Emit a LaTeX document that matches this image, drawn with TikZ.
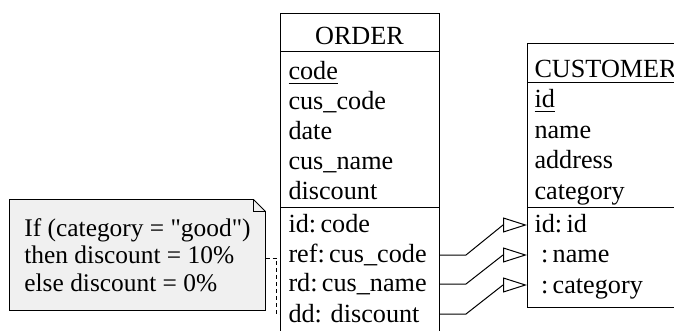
\documentclass[tikz,border=0pt]{standalone}
\usepackage{fontspec}
\setmainfont{Liberation Serif}
\newfontfamily\memofont{Liberation Serif}
\usetikzlibrary{arrows.meta, positioning, calc, backgrounds}

\begin{document}
\begin{tikzpicture}[x=0.5pt, y=-0.5pt, line width=0.5pt,
      every node/.style={font=\fontsize{13.1}{13.75}\selectfont},
      relbox/.style={draw, anchor=north west, inner sep=0pt},
      row/.style={anchor=base west, inner sep=0pt, text height=11pt, text depth=3pt},
      title/.style={anchor=base, inner sep=0pt},
      memo/.style={minimum width=127.5pt, minimum height=55pt, align=left,
        font=\memofont\fontsize{12.7}{13.75}\selectfont},
      fk/.style={-{Triangle[open, length=12pt, width=7.5pt]}}]

      \useasboundingbox (0,0) rectangle (674,331);

      % Tables
      \node[relbox, minimum width=79.5pt, minimum height=170pt] (order) at (280,13) {};
      \draw (order.west |- 0,52) -- (order.east |- 0,52);
      \draw (order.west |- 0,208) -- (order.east |- 0,208);
      \node[relbox, minimum width=86.5pt, minimum height=132pt] (cust) at (527,43) {};
      \draw (cust.west |- 0,83) -- (cust.east |- 0,83);
      \draw (cust.west |- 0,208) -- (cust.east |- 0,208);

      % ORDER
      \node[title] (ordtitle) at (359.5,45) {ORDER};
      \node[row] (code) at (288,80) {\underline{code}};
      \node[row] (cuscode) at (288,110) {cus\_code};
      \node[row] (date) at (288,140) {date};
      \node[row] (cusname) at (288,170) {cus\_name};
      \node[row] (discount) at (288,200) {discount};
      \node[row] (idcode) at (288,233) {id:\,code};
      \node[row] (ref) at (288,263) {ref:\,cus\_code};
      \node[row] (rd) at (288,292) {rd:\,cus\_name};
      \node[row] (dd) at (288,322) {dd: discount};

      % CUSTOMER
      \node[row] (custtitle) at (534,78) {CUSTOMER};
      \node[row] (id) at (534,108) {\underline{id}};
      \node[row] (name) at (534,139) {name};
      \node[row] (address) at (534,169) {address};
      \node[row] (category) at (534,199) {category};
      \node[row] (idid) at (534,233) {id:\,id};
      \node[row] (idname) at (534,263) {\ :\,name};
      \node[row] (idcat) at (534,293) {\ :\,category};

      % Foreign keys
      \foreach \src/\dst in {ref/idid, rd/idname, dd/idcat} {
        \draw[fk] (\src.center -| order.east) -- ++(26,0)
          -- ($(\dst.center -| cust.west)+(-24,0)$) -- (\dst.center -| cust.west);
      }

      % Note
      \node[memo] (note) at (137.5,255) {If (category = "good")\\then discount = 10\%\\else discount = 0\%};
      \begin{pgfonlayer}{background}
        \draw[fill=gray!12] (note.north west) -- ([xshift=-6pt]note.north east)
          -- ([yshift=-6pt]note.north east) -- (note.south east) -- (note.south west) -- cycle;
      \end{pgfonlayer}
      \draw ([xshift=-6pt]note.north east) -- ([xshift=-6pt, yshift=-6pt]note.north east)
        -- ([yshift=-6pt]note.north east);
      \draw[dash pattern=on 2pt off 1.5pt] ([yshift=-1.5pt]note.east) -- ++(11,0) |- (dd.center -| order.west);
    \end{tikzpicture}
\end{document}
